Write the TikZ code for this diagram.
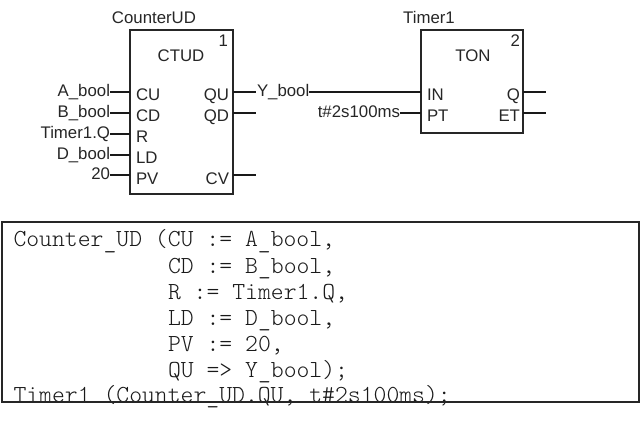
\documentclass[tikz,border=0pt]{standalone}
\usepackage{fontspec}
\setmainfont{Liberation Sans}
\newfontfamily\codefont{Latin Modern Mono Light}
\newcommand{\us}{\raisebox{-1.3pt}{\_}}
\begin{document}
\begin{tikzpicture}[x=1pt,y=-1pt,
  blockbox/.style={draw=black!85,line width=2pt,inner sep=0pt,outer sep=0pt,anchor=north west},
  pinline/.style={draw=black!90,line width=2pt},
  fb/.style={inner sep=0pt,outer sep=0pt,font=\fontsize{16.8}{17}\selectfont,text=black!85},
  codeline/.style={inner sep=0pt,outer sep=0pt,anchor=base west,font=\codefont\fontsize{24.5}{26}\selectfont,text=black!90},
  codebox/.style={draw=black!85,line width=1.6pt}]
\useasboundingbox (0,0) rectangle (640,422);
% code
\node[codeline] (c1) at (13.5,247) {Counter\us{}UD (CU := A\us{}bool,};
\node[codeline] (c2) at (168,273) {CD := B\us{}bool,};
\node[codeline] (c3) at (168,299) {R := Timer1.Q,};
\node[codeline] (c4) at (168,325) {LD := D\us{}bool,};
\node[codeline] (c5) at (168,351) {PV := 20,};
\node[codeline] (c6) at (168,377) {QU => Y\us{}bool);};
\node[codeline] (c7) at (13.5,402.5) {Timer1 (Counter\us{}UD.QU, t\#2s100ms);};
\draw[codebox] (2,222) rectangle (639,402);
% blocks
\node[blockbox,minimum width=103pt,minimum height=164pt] (ctu) at (130,30) {};
\node[blockbox,minimum width=102pt,minimum height=103pt] (ton) at (421,30) {};
\node[fb,anchor=base] (n1) at (154,24) {CounterUD};
\node[fb,anchor=base] (n2) at (429,24) {Timer1};
\node[fb,anchor=base] (t1) at (181,62) {CTUD};
\node[fb,anchor=base] (t2) at (473,62) {TON};
\node[fb,anchor=base east] (i1) at (228,47) {1};
\node[fb,anchor=base east] (i2) at (520,47) {2};
% pin names
\node[fb,anchor=base west] (cu) at (136,101) {CU};
\node[fb,anchor=base west] (cd) at (136,122) {CD};
\node[fb,anchor=base west] (r) at (136,143) {R};
\node[fb,anchor=base west] (ld) at (136,164) {LD};
\node[fb,anchor=base west] (pv) at (136,185) {PV};
\node[fb,anchor=base east] (qu) at (229,101) {QU};
\node[fb,anchor=base east] (qd) at (229,122) {QD};
\node[fb,anchor=base east] (cv) at (229,185) {CV};
\node[fb,anchor=base west] (in) at (427,101) {IN};
\node[fb,anchor=base west] (pt) at (427,122) {PT};
\node[fb,anchor=base east] (q) at (520,101) {Q};
\node[fb,anchor=base east] (et) at (520,122) {ET};
% variable labels
\node[fb,anchor=base east] (a) at (110,97) {A\_bool};
\node[fb,anchor=base east] (b) at (110,118) {B\_bool};
\node[fb,anchor=base east] (t) at (110,139) {Timer1.Q};
\node[fb,anchor=base east] (d) at (110,160) {D\_bool};
\node[fb,anchor=base east] (v) at (110,180) {20};
\node[fb,anchor=base west] (y) at (257,97) {Y\_bool};
\node[fb,anchor=base east] (tt) at (400,118) {t\#2s100ms};
% free pin ends
\coordinate (ye) at (256,92);
\coordinate (qde) at (256,113);
\coordinate (cve) at (256,175);
\coordinate (qe) at (546,92);
\coordinate (ete) at (546,113);
% connectors
\draw[pinline] (a.east |- 0,92) -- (ctu.west |- 0,92);
\draw[pinline] (b.east |- 0,113) -- (ctu.west |- 0,113);
\draw[pinline] (t.east |- 0,134) -- (ctu.west |- 0,134);
\draw[pinline] (d.east |- 0,155) -- (ctu.west |- 0,155);
\draw[pinline] (v.east |- 0,175) -- (ctu.west |- 0,175);
\draw[pinline] (ctu.east |- ye) -- (ye);
\draw[pinline] (ctu.east |- qde) -- (qde);
\draw[pinline] (ctu.east |- cve) -- (cve);
\draw[pinline] (y.east |- ye) -- (ton.west |- ye);
\draw[pinline] (tt.east |- qde) -- (ton.west |- qde);
\draw[pinline] (ton.east |- qe) -- (qe);
\draw[pinline] (ton.east |- ete) -- (ete);
\end{tikzpicture}
\end{document}
